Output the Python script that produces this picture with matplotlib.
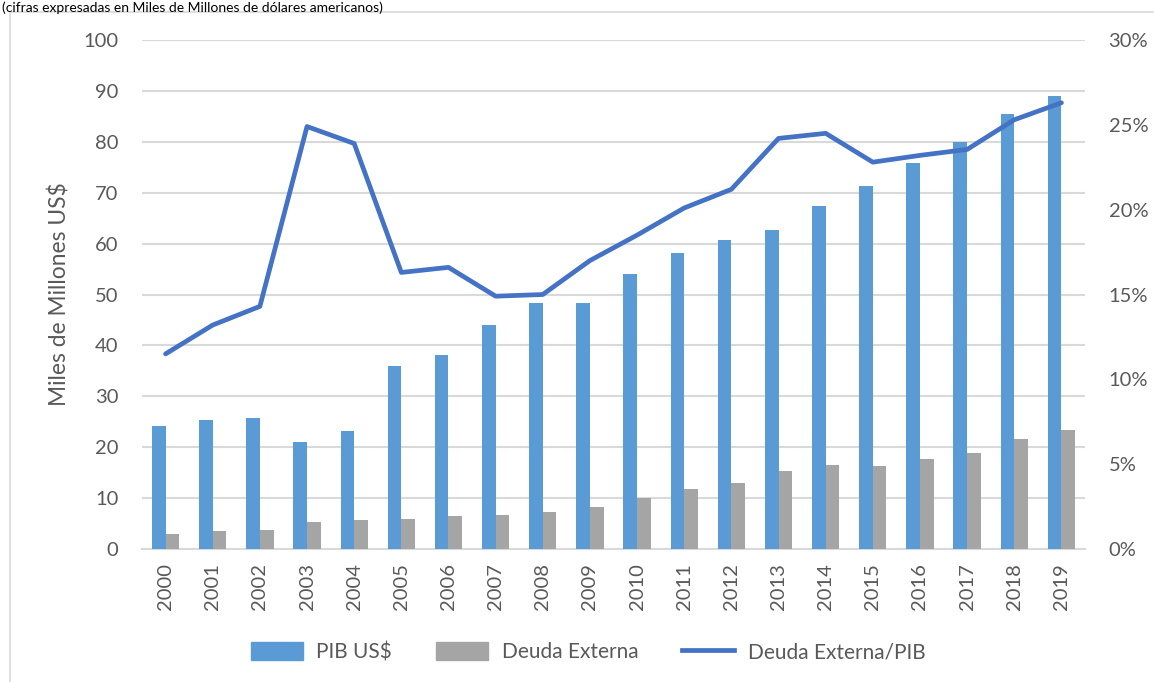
import matplotlib.pyplot as plt
import matplotlib.patches as mpatches
from matplotlib.lines import Line2D
from matplotlib.ticker import FuncFormatter
import numpy as np

# -------------------------------
# Data
# -------------------------------
years = [str(y) for y in range(2000, 2020)]
pib = [24.2, 25.3, 25.8, 21.0, 23.2, 36.0, 38.1, 44.1, 48.3, 48.4,
       54.0, 58.1, 60.7, 62.7, 67.3, 71.3, 75.8, 80.0, 85.5, 88.9]
deuda = [2.9, 3.5, 3.7, 5.3, 5.6, 5.95, 6.4, 6.7, 7.3, 8.25,
         10.1, 11.7, 12.9, 15.3, 16.5, 16.3, 17.6, 18.9, 21.6, 23.4]
ratio = [11.5, 13.2, 14.3, 24.9, 23.9, 16.3, 16.6, 14.9, 15.0, 17.0,
         18.5, 20.1, 21.2, 24.2, 24.5, 22.8, 23.2, 23.55, 25.3, 26.3]

BLUE = "#5B9BD5"
GRAY = "#A5A5A5"
LINE = "#4472C4"
TXT = "#595959"
GRID = "#D9D9D9"

plt.rcParams["font.family"] = ["Lato", "DejaVu Sans"]

W, H = 1154, 682
fig = plt.figure(figsize=(W / 100, H / 100), dpi=100)

# chart area border
fig.patches.append(mpatches.Rectangle((10 / W, -0.1), 1.2, 1 - 12 / H + 0.1,
                                      transform=fig.transFigure, fill=False,
                                      edgecolor="#D9D9D9", lw=1.2))

# caption at the very top
fig.text(2 / W, 1 - 1 / H, "(cifras expresadas en Miles de Millones de dólares americanos)",
         fontsize=10, color="black", va="top", ha="left")

# plot area
left, right, top, bottom = 142, 1085, 40, 549
ax = fig.add_axes([left / W, 1 - bottom / H, (right - left) / W, (bottom - top) / H])
ax2 = ax.twinx()

x = np.arange(len(years))
bw = 0.29
ax.bar(x - bw / 2, pib, bw, color=BLUE, label="PIB US$", zorder=3)
ax.bar(x + bw / 2, deuda, bw, color=GRAY, label="Deuda Externa", zorder=3)

ax2.plot(x, ratio, color=LINE, lw=3.4, solid_capstyle="round",
         solid_joinstyle="round", label="Deuda Externa/PIB")

ax.set_xlim(-0.5, len(years) - 0.5)
ax.set_ylim(0, 100)
ax.set_yticks(range(0, 101, 10))
ax2.set_ylim(0, 30)
ax2.set_yticks(range(0, 31, 5))
ax2.yaxis.set_major_formatter(FuncFormatter(lambda v, p: f"{v:.0f}%"))

ax.yaxis.grid(True, color=GRID, lw=1.5, zorder=0)
ax.set_axisbelow(True)
for a in (ax, ax2):
    for s in a.spines.values():
        s.set_visible(False)
ax.spines["bottom"].set_visible(True)
ax.spines["bottom"].set_color(GRID)
ax.spines["bottom"].set_linewidth(1.5)

ax.set_xticks(x)
ax.set_xticklabels(years, rotation=90)
ax.tick_params(axis="x", length=0, pad=10, labelsize=14.5, labelcolor=TXT)
ax.tick_params(axis="y", length=0, pad=17, labelsize=14.5, labelcolor=TXT)
ax2.tick_params(axis="y", length=0, pad=17, labelsize=14.5, labelcolor=TXT)

ax.set_ylabel("Miles de Millones US$", fontsize=16.4, color=TXT, labelpad=9)

handles = [mpatches.Patch(color=BLUE, label="PIB US$"),
           mpatches.Patch(color=GRAY, label="Deuda Externa"),
           Line2D([0], [0], color=LINE, lw=3.4, label="Deuda Externa/PIB")]
fig.legend(handles=handles, loc="center", bbox_to_anchor=(588 / W, 1 - 652 / H),
           ncol=3, frameon=False, fontsize=15, labelcolor=TXT,
           handlelength=2.5, handleheight=0.95, columnspacing=2.1, handletextpad=0.65)

fig.savefig("out.png", dpi=100)
